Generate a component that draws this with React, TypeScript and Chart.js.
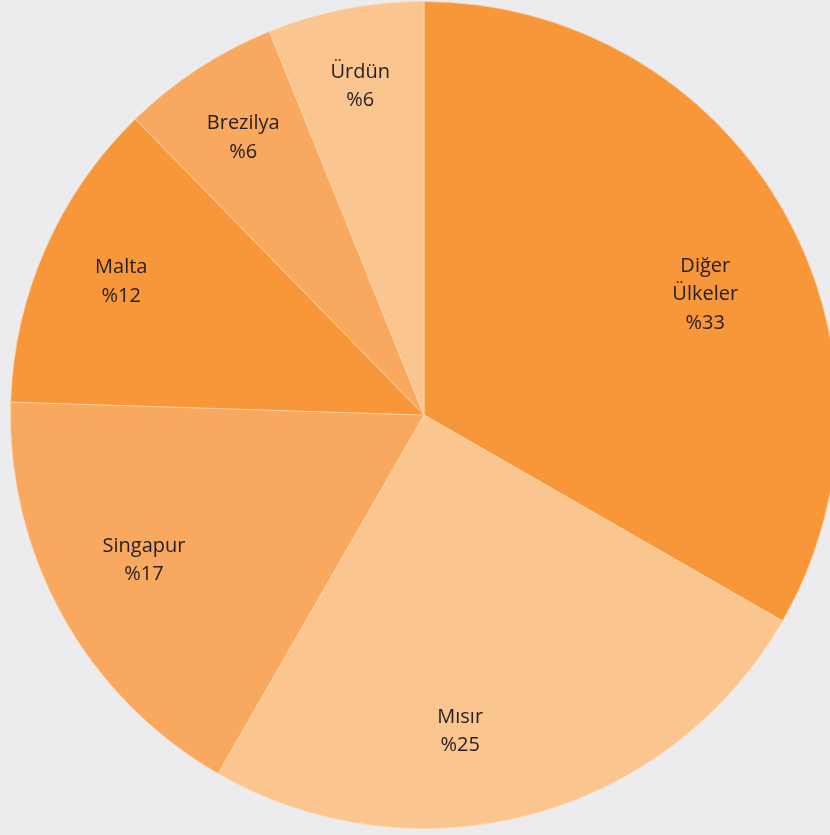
import React, { useEffect, useRef } from "react";
import { Chart, registerables } from "chart.js";

Chart.register(...registerables);

const categories: string[][] = [["Diğer", "Ülkeler"], ["Mısır"], ["Singapur"], ["Malta"], ["Brezilya"], ["Ürdün"]];
const values: number[] = [33.3, 25, 17.2, 12.2, 6.2, 6.1];
const percentLabels: string[] = ["%33", "%25", "%17", "%12", "%6", "%6"];
const colors: string[] = ["#F7973A", "#FBC590", "#F8A85F", "#F7973A", "#F8A85F", "#FBC590"];

const labelPlugin = {
  id: "sliceLabels",
  afterDatasetsDraw(chart: any) {
    const ctx = chart.ctx;
    const meta = chart.getDatasetMeta(0);
    const angleAdjust = [0.12, 0.15, 0.03, 0, 0, 0];
    const radiusFactor = [0.74, 0.77, 0.763, 0.8, 0.8, 0.81];
    ctx.save();
    ctx.fillStyle = "#231F20";
    ctx.font = "20px 'Open Sans', sans-serif";
    ctx.textAlign = "center";
    ctx.textBaseline = "middle";
    meta.data.forEach((arc: any, i: number) => {
      const { x, y, startAngle, endAngle, outerRadius } = arc.getProps(["x", "y", "startAngle", "endAngle", "outerRadius"], true);
      const mid = (startAngle + endAngle) / 2 + angleAdjust[i];
      const r = outerRadius * radiusFactor[i];
      const cx = x + Math.cos(mid) * r;
      const cy = y + Math.sin(mid) * r;
      const lines = [...categories[i], percentLabels[i]];
      const lh = 28.5;
      const top = cy - ((lines.length - 1) * lh) / 2;
      lines.forEach((t, k) => ctx.fillText(t, cx, top + k * lh));
    });
    ctx.restore();
  },
};

export default function App() {
  const ref = useRef<HTMLCanvasElement>(null);
  useEffect(() => {
    if (!ref.current) return;
    const chart = new Chart(ref.current, {
      type: "pie",
      data: {
        labels: categories.map((c) => c.join(" ")),
        datasets: [
          {
            data: values,
            backgroundColor: colors,
            borderColor: "rgba(255,215,170,0.7)",
            borderWidth: 1,
          },
        ],
      },
      options: {
        responsive: false,
        animation: false,
        layout: { padding: 0 },
        plugins: { legend: { display: false }, tooltip: { enabled: false } },
      },
      plugins: [labelPlugin],
    });
    return () => chart.destroy();
  }, []);
  return (
    <div style={{ position: "fixed", left: 0, top: 0, width: 830, height: 835, background: "#ECEBEE", overflow: "hidden" }}>
      <canvas ref={ref} width={828} height={828} style={{ position: "absolute", left: 10, top: 1, width: 828, height: 828 }} />
    </div>
  );
}
